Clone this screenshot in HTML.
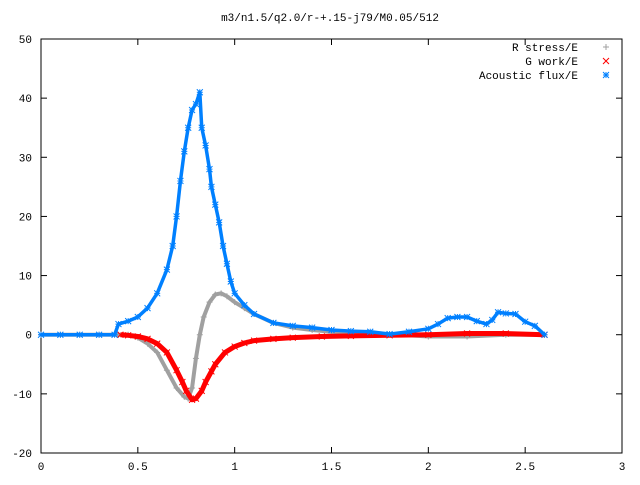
<!DOCTYPE html>
<html><head><meta charset="utf-8"><style>
body{margin:0;background:#fff}
svg text{font-family:"Liberation Mono",monospace;font-size:11px;fill:#000}
</style></head><body>
<svg id="c" width="640" height="480">
<text x="330" y="21" text-anchor="middle">m3/n1.5/q2.0/r-+.15-j79/M0.05/512</text>
<g id="axes"></g><g id="series"></g><g id="legend"></g>
</svg>
<script>
const xTicks=[0,0.5,1,1.5,2,2.5,3];
const xTickLabels=["0","0.5","1","1.5","2","2.5","3"];
const yTicks=[-20,-10,0,10,20,30,40,50];
const yTickLabels=["-20","-10","0","10","20","30","40","50"];
const seriesNames=["R stress/E","G work/E","Acoustic flux/E"];
const stressX=[0,0.1,0.2,0.3,0.4,0.45,0.5,0.55,0.6,0.65,0.7,0.74,0.76,0.78,0.8,0.82,0.84,0.87,0.9,0.93,0.96,1.0,1.05,1.1,1.2,1.3,1.4,1.5,1.65,1.8,2.0,2.2,2.4,2.6];
const stressY=[0,0,0,0,0,0,-0.5,-1.5,-3,-6,-9,-10.5,-10.8,-9,-4,0,3,5.5,6.8,7,6.5,5.5,4.5,3.5,2,1.2,0.8,0.5,0.3,0.1,-0.3,-0.3,0,0];
const workX=[0.41,0.45,0.5,0.55,0.6,0.65,0.7,0.73,0.75,0.78,0.8,0.83,0.85,0.88,0.9,0.95,1.0,1.05,1.1,1.2,1.3,1.45,1.6,1.8,2.0,2.2,2.4,2.6];
const workY=[0,-0.1,-0.3,-0.7,-1.5,-3,-6,-8,-9.5,-11,-10.8,-9.5,-8,-6.2,-5,-3,-2,-1.4,-1,-0.7,-0.5,-0.3,-0.2,-0.1,0,0.2,0.2,0];
const fluxX=[0,0.1,0.2,0.3,0.38,0.4,0.45,0.5,0.55,0.6,0.65,0.68,0.7,0.72,0.74,0.76,0.78,0.8,0.82,0.83,0.85,0.87,0.88,0.9,0.92,0.94,0.96,0.98,1.0,1.05,1.1,1.2,1.3,1.4,1.5,1.6,1.7,1.8,1.9,2.0,2.05,2.1,2.15,2.2,2.25,2.3,2.33,2.36,2.4,2.45,2.5,2.55,2.6];
const fluxY=[0,0,0,0,0,1.8,2.3,3,4.5,7,11,15,20,26,31,35,38,39,41,35,32,28,25,22,19,15,12,9,7,5,3.5,2,1.5,1.2,0.8,0.6,0.5,0.1,0.5,1,1.8,2.8,3,3,2.3,1.8,2.5,3.8,3.6,3.5,2.2,1.5,0];
const X0=41,X1=622,Y0=453,Y1=39,xmin=0,xmax=3,ymin=-20,ymax=50;
const sx=v=>X0+(v-xmin)/(xmax-xmin)*(X1-X0);
const sy=v=>Y0-(v-ymin)/(ymax-ymin)*(Y0-Y1);
const NS="http://www.w3.org/2000/svg";
function mk(t,a,p){const e=document.createElementNS(NS,t);for(const k in a)e.setAttribute(k,a[k]);p.appendChild(e);return e;}
const ax=document.getElementById('axes');
const frame=mk('rect',{x:X0,y:Y1,width:X1-X0,height:Y0-Y1,fill:'none',stroke:'#000','stroke-width':1},ax);


xTicks.forEach((v,i)=>{const x=sx(v);
 mk('line',{x1:x,y1:Y0,x2:x,y2:Y0-6,stroke:'#000'},ax);mk('line',{x1:x,y1:Y1,x2:x,y2:Y1+6,stroke:'#000'},ax);
 const t=mk('text',{x:x,y:470,'text-anchor':'middle'},ax);t.textContent=xTickLabels[i];
 
 });
yTicks.forEach((v,i)=>{const y=sy(v);
 mk('line',{x1:X0,y1:y,x2:X0+6,y2:y,stroke:'#000'},ax);mk('line',{x1:X1,y1:y,x2:X1-6,y2:y,stroke:'#000'},ax);
 const t=mk('text',{x:32,y:y+4,'text-anchor':'end'},ax);t.textContent=yTickLabels[i];
 
 });
function plus(g,x,y,c){mk('path',{d:`M${x-3},${y}h6M${x},${y-3}v6`,stroke:c,fill:'none'},g);}
function cross(g,x,y,c){mk('path',{d:`M${x-3},${y-3}l6,6M${x-3},${y+3}l6,-6`,stroke:c,fill:'none'},g);}
function star(g,x,y,c){mk('path',{d:`M${x-3},${y}h6M${x},${y-3}v6M${x-3},${y-3}l6,6M${x-3},${y+3}l6,-6`,stroke:c,fill:'none'},g);}
const sg=document.getElementById('series');
function draw(xs,ys,c,m,name,w){const g=mk('g',{},sg);
 
 
 mk('polyline',{points:xs.map((v,i)=>sx(v)+','+sy(ys[i])).join(' '),fill:'none',stroke:c,'stroke-width':w,'stroke-linejoin':'round'},g);
 xs.forEach((v,i)=>m(g,sx(v),sy(ys[i]),c));}
draw(stressX,stressY,'#a0a0a0',plus,'r-stress-series',4);
draw(workX,workY,'#ff0000',cross,'g-work-series',5);
draw(fluxX,fluxY,'#0080ff',star,'acoustic-flux-series',3.5);
const lg=document.getElementById('legend');
const cols=['#a0a0a0','#ff0000','#0080ff'],ms=[plus,cross,star];
seriesNames.forEach((n,i)=>{const y=47+i*14;
 const g=mk('g',{},lg);
 
 
 const t=mk('text',{x:578,y:y+4,'text-anchor':'end'},g);t.textContent=n;
 ms[i](g,606,y,cols[i]);});
</script>
</body></html>
